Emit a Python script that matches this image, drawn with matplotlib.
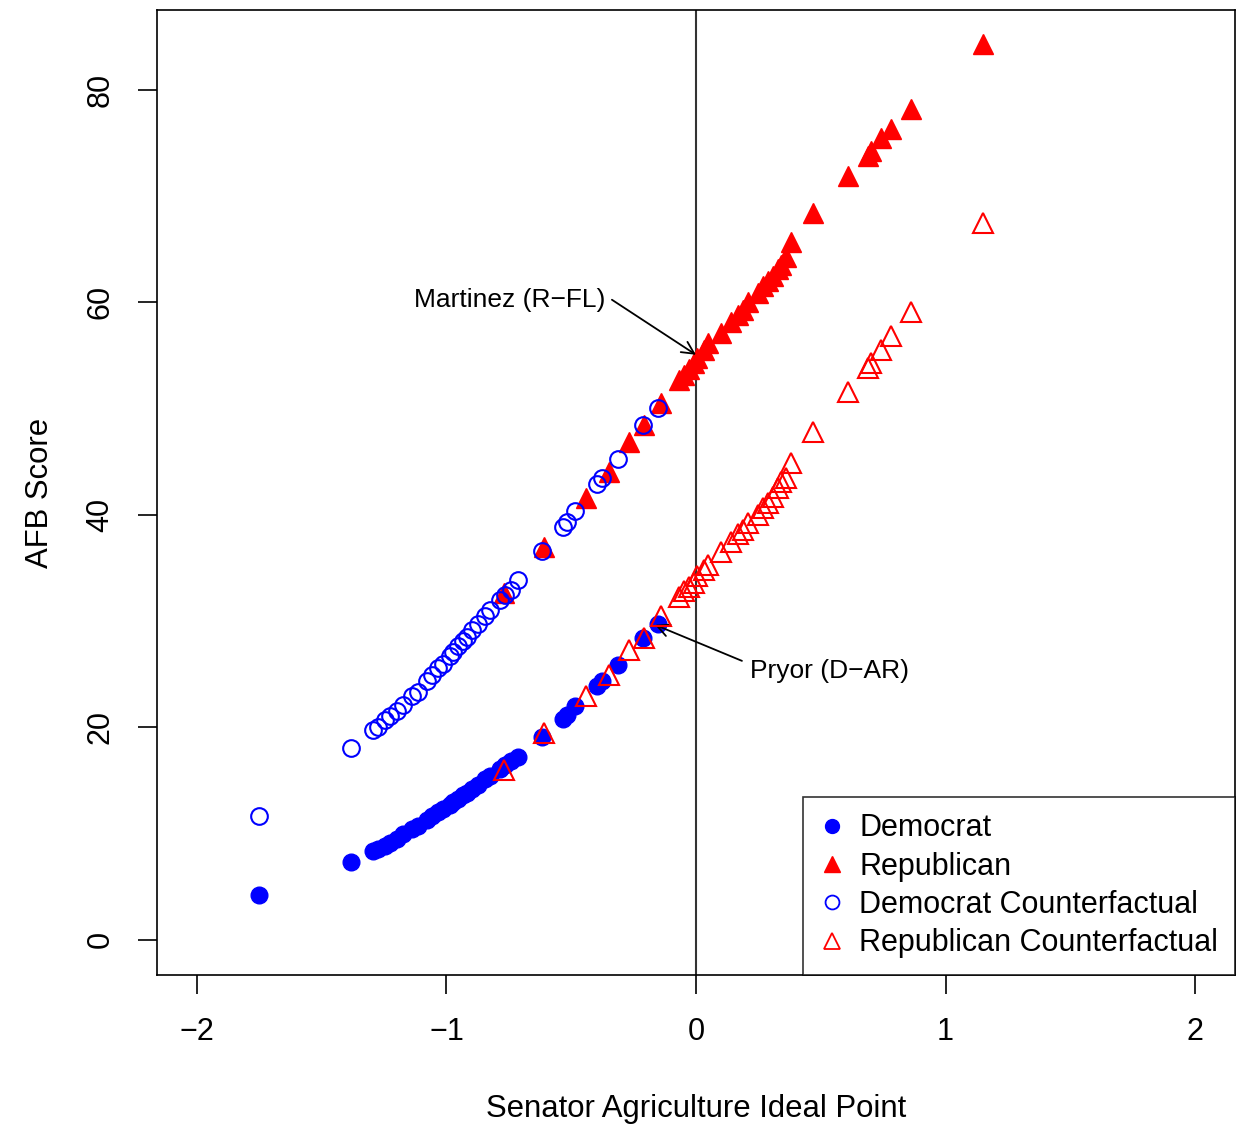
import numpy as np
import matplotlib
matplotlib.use("Agg")
import matplotlib.pyplot as plt
from matplotlib.lines import Line2D

plt.rcParams['font.family'] = ['Liberation Sans', 'DejaVu Sans']

# Democrats: ideal point, actual AFB score, counterfactual score
dem_x = [-1.751, -1.383, -1.295, -1.275, -1.246, -1.226, -1.198, -1.174, -1.138, -1.114,
         -1.078, -1.058, -1.034, -1.014, -0.986, -0.974, -0.954, -0.934, -0.918, -0.898,
         -0.874, -0.846, -0.826, -0.786, -0.766, -0.741, -0.713, -0.617, -0.533, -0.517,
         -0.485, -0.397, -0.377, -0.313, -0.212, -0.152]
dem_y = [4.2, 7.3, 8.4, 8.6, 8.8, 9.1, 9.5, 10.0, 10.4, 10.7,
         11.3, 11.7, 12.0, 12.3, 12.7, 13.0, 13.3, 13.6, 13.8, 14.2,
         14.6, 15.1, 15.4, 16.1, 16.5, 16.8, 17.2, 19.1, 20.8, 21.2,
         22.0, 23.9, 24.4, 25.9, 28.4, 29.7]
dem_cf = [11.7, 18.1, 19.8, 20.0, 20.7, 21.1, 21.5, 22.1, 23.0, 23.3,
          24.4, 24.9, 25.6, 26.0, 26.7, 27.1, 27.7, 28.1, 28.5, 29.2,
          29.7, 30.5, 31.0, 32.0, 32.5, 32.9, 33.9, 36.6, 38.9, 39.3,
          40.4, 42.9, 43.5, 45.3, 48.5, 50.1]

# Republicans
rep_x = [-0.77, -0.61, -0.44, -0.35, -0.27, -0.21, -0.14, -0.07, -0.05, -0.03,
         -0.01, 0.005, 0.03, 0.05, 0.10, 0.14, 0.17, 0.19, 0.21, 0.25,
         0.27, 0.29, 0.31, 0.33, 0.34, 0.36, 0.38, 0.47, 0.61, 0.69,
         0.70, 0.74, 0.78, 0.86, 1.15]
rep_y = [32.6, 37.0, 41.6, 44.0, 46.9, 48.5, 50.5, 52.7, 53.2, 53.7,
         54.3, 54.8, 55.5, 56.2, 57.1, 58.1, 58.8, 59.3, 60.0, 60.9,
         61.5, 62.0, 62.5, 63.1, 63.5, 64.3, 65.7, 68.4, 71.9, 73.8,
         74.2, 75.5, 76.3, 78.2, 84.3]
rep_cf = [16.0, 19.5, 23.0, 24.9, 27.3, 28.4, 30.5, 32.3, 32.8, 33.2,
          33.6, 34.2, 34.8, 35.3, 36.5, 37.4, 38.2, 38.6, 39.2, 40.0,
          40.6, 41.1, 41.7, 42.5, 43.1, 43.5, 44.9, 47.8, 51.6, 53.8,
          54.3, 55.5, 56.8, 59.1, 67.5]

fig = plt.figure(figsize=(12.43, 11.29), dpi=100)
ax = fig.add_axes([0.1263, 0.1364, 0.8673, 0.8547])

ax.axvline(0, color='#333333', lw=1.5, zorder=1)

ms = 12
ax.plot(dem_x, dem_y, 'o', color='blue', ms=ms, mec='blue', ls='none', zorder=2)
ax.plot(rep_x, rep_y, '^', color='red', ms=ms + 2, mec='red', ls='none', zorder=3)
ax.plot(dem_x, dem_cf, 'o', mfc='none', mec='blue', mew=1.5, ms=ms, ls='none', zorder=4)
ax.plot(rep_x, rep_cf, '^', mfc='none', mec='red', mew=1.5, ms=ms + 2, ls='none', zorder=5)

ax.set_xlim(-2.16, 2.16)
ax.set_ylim(-3.3, 87.5)
ax.set_xticks([-2, -1, 0, 1, 2])
ax.set_yticks([0, 20, 40, 60, 80])
ax.set_yticklabels(['0', '20', '40', '60', '80'], rotation=90, va='center')
ax.tick_params(length=14, width=1.2, pad=16, labelsize=22)
for s in ax.spines.values():
    s.set_linewidth(1.2)

ax.set_xlabel('Senator Agriculture Ideal Point', fontsize=22.4, labelpad=34)
ax.set_ylabel('AFB Score', fontsize=22.4, labelpad=22)

# annotations: text and arrow drawn separately, as in the original
ax.text(-0.365, 60.2, 'Martinez (R\u2212FL)', ha='right', va='center', fontsize=19)
ax.annotate('', xy=(0, 55.06), xytext=(-0.337, 60.24),
            arrowprops=dict(arrowstyle='->', color='black', lw=1.3,
                            shrinkA=0, shrinkB=0, mutation_scale=22))
ax.text(0.216, 25.3, 'Pryor (D\u2212AR)', ha='left', va='center', fontsize=19)
ax.annotate('', xy=(-0.164, 29.65), xytext=(0.184, 26.26),
            arrowprops=dict(arrowstyle='->', color='black', lw=1.3,
                            shrinkA=0, shrinkB=0, mutation_scale=22))

handles = [
    Line2D([], [], marker='o', ls='none', color='blue', ms=10),
    Line2D([], [], marker='^', ls='none', color='red', ms=12),
    Line2D([], [], marker='o', ls='none', mfc='none', mec='blue', mew=1.3, ms=10),
    Line2D([], [], marker='^', ls='none', mfc='none', mec='red', mew=1.3, ms=12),
]
labels = ['Democrat', 'Republican', 'Democrat Counterfactual', 'Republican Counterfactual']
leg = ax.legend(handles, labels, loc='lower right', fontsize=22, frameon=True,
                fancybox=False, borderaxespad=0, handlelength=0.8,
                handletextpad=0.5, labelspacing=0.27, borderpad=0.55)
leg.get_frame().set_edgecolor('black')
leg.get_frame().set_linewidth(1.2)

fig.savefig('out.png', dpi=100)
